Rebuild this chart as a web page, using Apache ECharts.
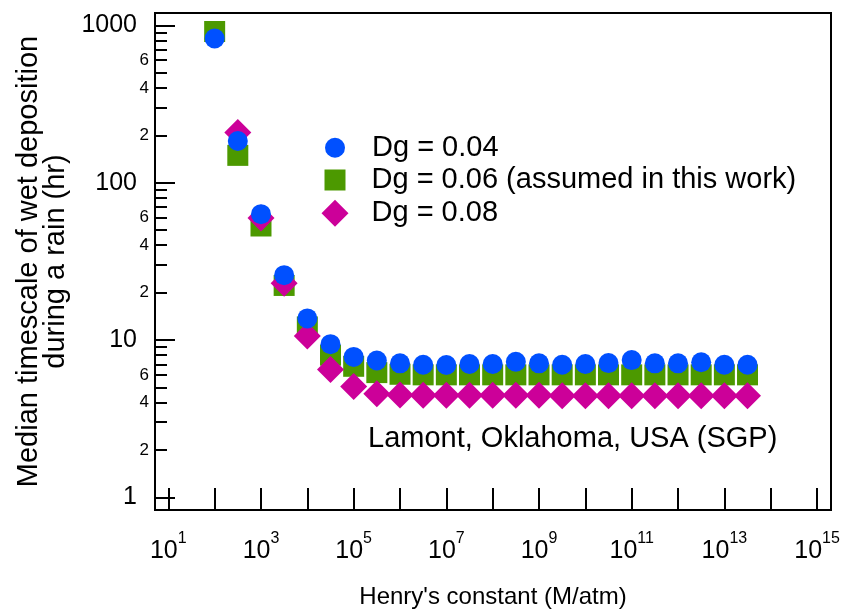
<!DOCTYPE html>
<html><head><meta charset="utf-8">
<script src="https://cdn.jsdelivr.net/npm/echarts@6/dist/echarts.min.js"></script>
<style>html,body{margin:0;padding:0;background:#fff}#c{width:847px;height:613px}</style>
</head><body><div id="c"></div>
<script>
// Henry's constant (M/atm), half-decade steps
const henry = [1e2, 3.16e2, 1e3, 3.16e3, 1e4, 3.16e4, 1e5, 3.16e5, 1e6, 3.16e6, 1e7, 3.16e7,
               1e8, 3.16e8, 1e9, 3.16e9, 1e10, 3.16e10, 1e11, 3.16e11, 1e12, 3.16e12, 1e13, 3.16e13];
// Median timescale (hr)
const dg004 = [824, 184, 63, 25.8, 13.7, 9.4, 7.8, 7.4, 7.1, 6.96, 6.93, 7.03,
               7.03, 7.27, 7.1, 6.96, 7.03, 7.13, 7.45, 7.1, 7.1, 7.21, 6.96, 6.96];
const dg006 = [913, 149, 53, 22.2, 12.1, 8.0, 6.8, 6.2, 6.05, 6.0, 6.0, 6.0,
               6.0, 6.0, 6.0, 6.0, 6.0, 6.0, 6.0, 6.0, 6.0, 6.0, 6.0, 6.0];
const dg008 = [null, 208, 59.5, 22.9, 10.6, 6.5, 5.05, 4.55, 4.47, 4.45, 4.45, 4.45,
               4.45, 4.45, 4.45, 4.42, 4.42, 4.42, 4.42, 4.42, 4.42, 4.42, 4.42, 4.42];
const seriesNames = ['Dg = 0.04', 'Dg = 0.06 (assumed in this work)', 'Dg = 0.08'];
const siteLabel = 'Lamont, Oklahoma, USA (SGP)';
const xTitle = "Henry's constant (M/atm)";
const yTitle = 'Median timescale of wet deposition\nduring a rain (hr)';
const xTickValues = [1e1, 1e2, 1e3, 1e4, 1e5, 1e6, 1e7, 1e8, 1e9, 1e10, 1e11, 1e12, 1e13, 1e14, 1e15];
const xLabelValues = [1e1, 1e3, 1e5, 1e7, 1e9, 1e11, 1e13, 1e15];
const yMajorTicks = [1, 10, 100, 1000];
const yMinorTicks = [2, 3, 4, 5, 6, 7, 8, 9, 20, 30, 40, 50, 60, 70, 80, 90, 200, 300, 400, 500, 600, 700, 800, 900];
const yMinorLabels = [2, 4, 6, 20, 40, 60, 200, 400, 600];

const FONT = '"Liberation Sans", Arial, sans-serif';
const colors = ['#0050ff', '#4c9900', '#cc0099'];
const xMin = 5.16, xMax = 2.0e15, yMin = 0.83, yMax = 1197;

function pairs(ys) { return henry.map((h, i) => [h, ys[i]]); }

function legendFor(i, icon, size, cy, padLeft) {
  return {
    data: [{ name: seriesNames[i], icon: icon }],
    orient: 'vertical',
    left: 335 - size / 2,
    top: cy - 16,
    padding: 0,
    itemWidth: size,
    itemHeight: size,
    selectedMode: false,
    textStyle: { fontFamily: FONT, fontSize: 29, color: '#000', lineHeight: 32, padding: [0, 0, 0, padLeft] }
  };
}

const chart = echarts.init(document.getElementById('c'));
chart.setOption({
  animation: false,
  textStyle: { fontFamily: FONT },
  title: {
    text: siteLabel, left: 368, top: 422, padding: 0,
    textStyle: { fontFamily: FONT, fontSize: 29, fontWeight: 'normal', color: '#000', lineHeight: 34 }
  },
  legend: [
    legendFor(0, 'circle', 20, 147.7, 22),
    legendFor(1, 'rect', 21, 180, 21),
    legendFor(2, 'diamond', 27, 213.3, 18)
  ],
  grid: { left: 155, right: 16, top: 13, bottom: 103, show: true, borderColor: '#000', borderWidth: 2,
          containLabel: false, outerBoundsMode: 'none' },
  xAxis: {
    type: 'log', min: xMin, max: xMax,
    name: xTitle, nameLocation: 'middle', nameGap: 74,
    nameTextStyle: { fontFamily: FONT, fontSize: 24, color: '#000', lineHeight: 26 },
    axisLine: { show: true, lineStyle: { color: '#000', width: 2 } },
    axisTick: { show: true, inside: true, length: 22, lineStyle: { color: '#000', width: 2 }, customValues: xTickValues },
    splitLine: { show: false }, minorTick: { show: false },
    axisLabel: {
      customValues: xLabelValues, margin: 21, color: '#000',
      formatter: function (v) { return '{b|10}{s|' + Math.round(Math.log10(v)) + '}'; },
      rich: {
        b: { fontFamily: FONT, fontSize: 25, lineHeight: 41, color: '#000' },
        s: { fontFamily: FONT, fontSize: 16, lineHeight: 17, verticalAlign: 'top', color: '#000' }
      }
    }
  },
  yAxis: [
    {
      type: 'log', min: yMin, max: yMax, position: 'left',
      name: yTitle, nameLocation: 'middle', nameGap: 76, nameRotate: 90,
      nameTextStyle: { fontFamily: FONT, fontSize: 29, color: '#000', lineHeight: 27 },
      axisLine: { show: true, lineStyle: { color: '#000', width: 2 } },
      axisTick: { show: true, inside: true, length: 20, lineStyle: { color: '#000', width: 2 }, customValues: yMajorTicks },
      splitLine: { show: false }, minorTick: { show: false },
      axisLabel: {
        customValues: yMajorTicks, margin: 18, color: '#000', fontFamily: FONT, fontSize: 25,
        formatter: function (v) { return String(Math.round(v)); }
      }
    },
    {
      type: 'log', min: yMin, max: yMax, position: 'left', offset: 0,
      axisLine: { show: false },
      axisTick: { show: true, inside: true, length: 12, lineStyle: { color: '#000', width: 2 }, customValues: yMinorTicks },
      splitLine: { show: false }, minorTick: { show: false },
      axisLabel: {
        customValues: yMinorLabels, margin: 6, color: '#000', fontFamily: FONT, fontSize: 17,
        formatter: function (v) { return String(Math.round(v)).charAt(0); }
      }
    }
  ],
  series: [
    { name: seriesNames[1], type: 'scatter', symbol: 'rect', symbolSize: 21, z: 2,
      itemStyle: { color: colors[1], opacity: 1 }, data: pairs(dg006) },
    { name: seriesNames[2], type: 'scatter', symbol: 'diamond', symbolSize: 27, z: 3,
      itemStyle: { color: colors[2], opacity: 1 }, data: pairs(dg008) },
    { name: seriesNames[0], type: 'scatter', symbol: 'circle', symbolSize: 20, z: 4,
      itemStyle: { color: colors[0], opacity: 1 }, data: pairs(dg004) }
  ]
});
</script></body></html>
